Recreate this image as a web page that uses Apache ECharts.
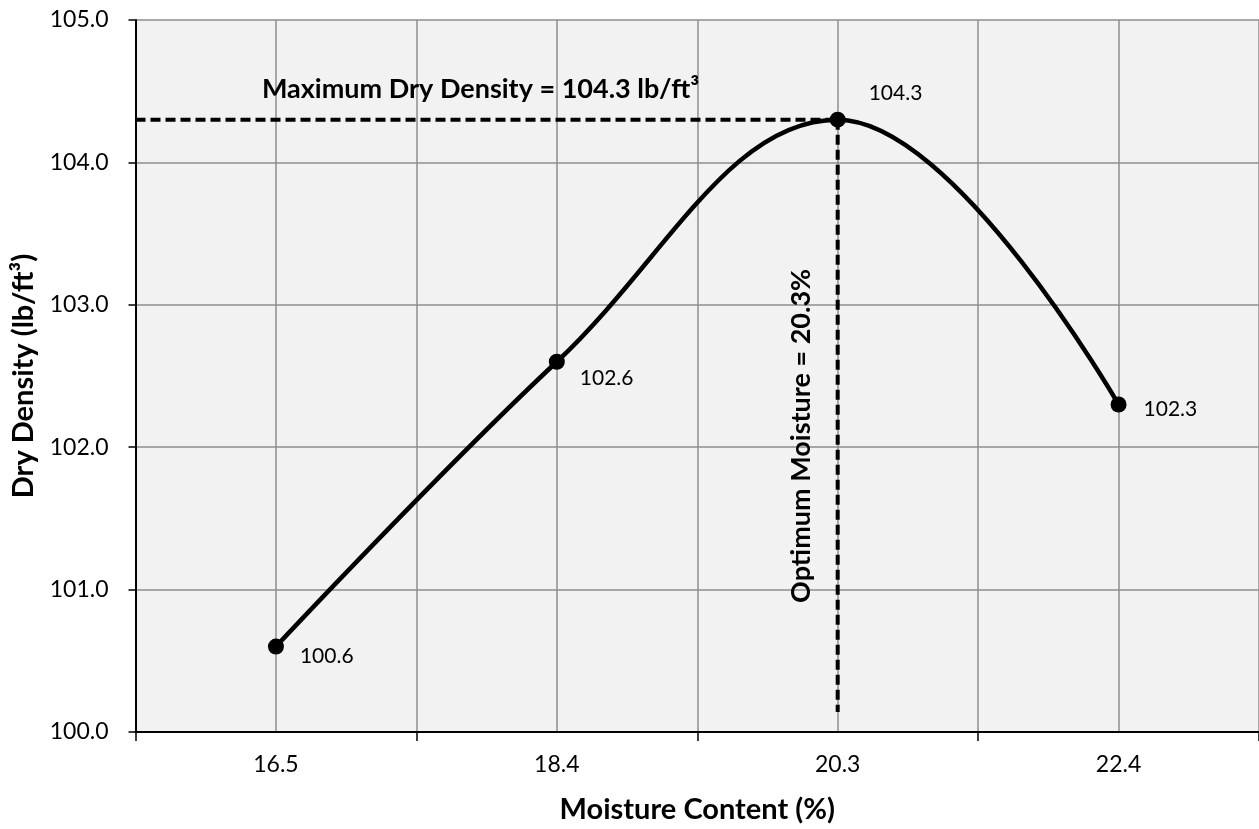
<!DOCTYPE html>
<html><head><meta charset="utf-8">
<script src="https://cdn.jsdelivr.net/npm/echarts@6/dist/echarts.min.js"></script>
<style>html,body{margin:0;padding:0;background:#fff}#c{width:1259px;height:829px}</style>
</head><body><div id="c"></div>
<script>
// ---- data ----
const categories = ['16.5', '18.4', '20.3', '22.4'];
const dryDensity = [100.6, 102.6, 104.3, 102.3];
const yMin = 100, yMax = 105, yStep = 1;
const maxDensity = 104.3;
const optimumIndex = 2;          // category 20.3
const optimumLineBottom = 100.14;
const xAxisTitle = 'Moisture Content (%)';
const yAxisTitle = 'Dry Density (lb/ft³)';
const maxLabel = 'Maximum Dry Density = 104.3 lb/ft³';
const optLabel = 'Optimum Moisture = 20.3%';

// ---- styling ----
const FONT = 'Lato, "Liberation Sans", sans-serif';
const GRID_COLOR = '#8e8e8e';
const labelOffsets = [[11, 10], [10, 16], [18, -26], [12, 5]];

const chart = echarts.init(document.getElementById('c'), null, {renderer: 'canvas'});

const option = {
  animation: false,
  backgroundColor: '#ffffff',
  grid: {left: 135.5, top: 20, width: 1129, height: 717, show: true,
         backgroundColor: '#f2f2f2', borderWidth: 0},
  xAxis: [
    {
      type: 'category', data: categories, boundaryGap: true, position: 'bottom',
      axisLine: {show: true, onZero: false, lineStyle: {color: '#000', width: 2}},
      axisTick: {show: true, length: 9, interval: 0, lineStyle: {color: '#000', width: 1.5}},
      axisLabel: {fontFamily: FONT, fontSize: 23, color: '#000', margin: 21},
      splitLine: {show: false},
      name: xAxisTitle, nameLocation: 'middle', nameGap: 63,
      nameTextStyle: {fontFamily: FONT, fontSize: 29, fontWeight: 'bold', color: '#000'}
    },
    {
      type: 'value', min: -0.5, max: 3.5, interval: 0.5, position: 'top',
      axisLine: {show: false, onZero: false}, axisTick: {show: false}, axisLabel: {show: false},
      splitLine: {show: true, lineStyle: {color: GRID_COLOR, width: 1.5}}
    }
  ],
  yAxis: {
    type: 'value', min: yMin, max: yMax, interval: yStep,
    axisLine: {show: true, onZero: false, lineStyle: {color: '#000', width: 2}},
    axisTick: {show: true, length: 7, lineStyle: {color: '#000', width: 1.5}},
    axisLabel: {fontFamily: FONT, fontSize: 23, color: '#000', margin: 27,
                formatter: v => v.toFixed(1)},
    splitLine: {show: true, lineStyle: {color: GRID_COLOR, width: 1.5}},
    name: yAxisTitle, nameLocation: 'middle', nameGap: 97, nameRotate: 90,
    nameTextStyle: {fontFamily: FONT, fontSize: 29, fontWeight: 'bold', color: '#000'}
  },
  series: [
    {
      type: 'line', xAxisIndex: 1, yAxisIndex: 0, z: 3,
      data: [[-0.5, maxDensity], [optimumIndex, maxDensity]],
      symbol: 'none', silent: true,
      lineStyle: {color: '#000', width: 4, type: [10, 5]}
    },
    {
      type: 'line', xAxisIndex: 1, yAxisIndex: 0, z: 3,
      data: [[optimumIndex, maxDensity], [optimumIndex, optimumLineBottom]],
      symbol: 'none', silent: true,
      lineStyle: {color: '#000', width: 4, type: [10, 5]}
    },
    {
      type: 'line', xAxisIndex: 0, yAxisIndex: 0, z: 5,
      smooth: 0.4,
      data: dryDensity.map((v, i) => ({
        value: v,
        label: {offset: labelOffsets[i]}
      })),
      symbol: 'circle', symbolSize: 16,
      itemStyle: {color: '#000'},
      lineStyle: {color: '#000', width: 4.5},
      label: {show: true, position: 'right', fontFamily: FONT, fontSize: 21, color: '#000',
              formatter: p => p.value.toFixed(1)}
    }
  ]
};
chart.setOption(option);

const pA = chart.convertToPixel({xAxisIndex: 1, yAxisIndex: 0}, [-0.5, maxDensity]);
const pB = chart.convertToPixel({xAxisIndex: 1, yAxisIndex: 0}, [optimumIndex, maxDensity]);
const pC = chart.convertToPixel({xAxisIndex: 1, yAxisIndex: 0}, [optimumIndex, optimumLineBottom]);

chart.setOption({
  graphic: [
    {
      type: 'text', z: 10,
      x: (pA[0] + pB[0]) / 2 - 6, y: pA[1] - 30,
      style: {text: maxLabel, fontFamily: FONT, fontSize: 27, fontWeight: 'bold', fill: '#000',
              align: 'center', verticalAlign: 'middle'}
    },
    {
      type: 'text', z: 10,
      x: pB[0] - 36, y: (pB[1] + pC[1]) / 2 + 20, rotation: Math.PI / 2,
      style: {text: optLabel, fontFamily: FONT, fontSize: 27, fontWeight: 'bold', fill: '#000',
              align: 'center', verticalAlign: 'middle'}
    }
  ]
});
</script>
</body></html>
